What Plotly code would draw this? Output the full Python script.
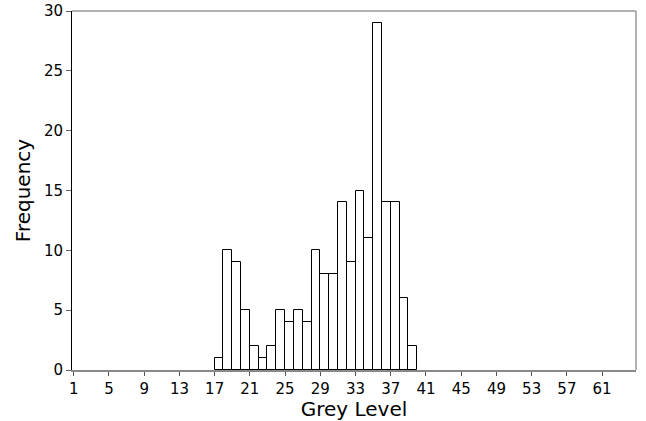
import plotly.graph_objects as go

grey_levels = list(range(17, 40))
frequency = [1, 10, 9, 5, 2, 1, 2, 5, 4, 5, 4, 10, 8, 8, 14, 9, 15, 11, 29, 14, 14, 6, 2]
x_ticks = list(range(1, 62, 4))
y_ticks = [0, 5, 10, 15, 20, 25, 30]

fig = go.Figure()
fig.add_trace(go.Bar(
    x=[g + 0.5 for g in grey_levels],
    y=frequency,
    width=1,
    marker=dict(color="white", line=dict(color="black", width=1)),
    showlegend=False,
))

font = "DejaVu Sans, sans-serif"
fig.update_layout(
    width=646, height=421,
    margin=dict(l=72, r=10, t=11, b=51),
    paper_bgcolor="white", plot_bgcolor="white",
    bargap=0,
    font=dict(family=font, color="black"),
    xaxis=dict(
        range=[0.8, 64.85],
        automargin=False,
        tickvals=x_ticks, ticktext=[str(t) for t in x_ticks],
        ticks="outside", ticklen=4, tickcolor="#555", tickwidth=1,
        showline=True, linecolor="#888", linewidth=1.5,
        showgrid=False, zeroline=False,
        tickfont=dict(size=15, family=font),
        title=dict(text="Grey Level", font=dict(size=20, family=font), standoff=4),
    ),
    yaxis=dict(
        range=[0, 30],
        automargin=False,
        tickvals=y_ticks,
        ticks="outside", ticklen=5, tickcolor="#666", tickwidth=1,
        showline=True, linecolor="black", linewidth=1,
        showgrid=False, zeroline=False,
        tickfont=dict(size=15, family=font),
        title=dict(text="Frequency", font=dict(size=20, family=font), standoff=7),
    ),
    shapes=[
        dict(type="line", xref="paper", yref="paper", x0=0, x1=1, y0=1, y1=1,
             line=dict(color="#999", width=1.5)),
        dict(type="line", xref="paper", yref="paper", x0=1, x1=1, y0=0, y1=1,
             line=dict(color="#999", width=1.5)),
    ],
)

fig.write_html(
    "out.html",
    config={"displayModeBar": False},
    post_script="document.body.style.margin='0';document.body.style.overflow='hidden';",
)
